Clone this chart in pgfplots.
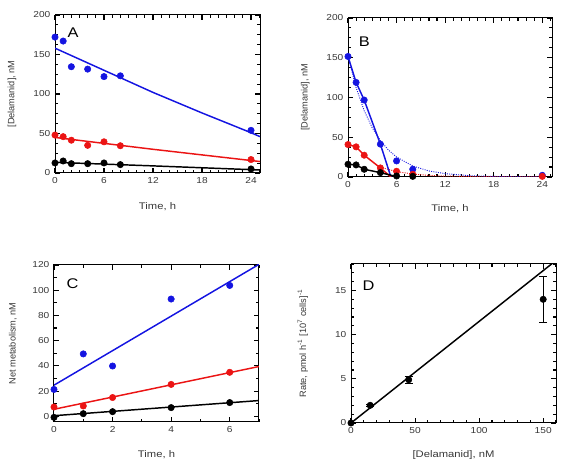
\documentclass[border=0pt]{standalone}
\usepackage{fontspec}
\setmainfont{Liberation Sans}[FakeStretch=1.17]
\newfontfamily\yfont{Liberation Sans}
\usepackage{pgfplots}
\pgfplotsset{compat=1.18}
\definecolor{myblue}{RGB}{20,20,225}
\definecolor{myred}{RGB}{235,20,20}
\definecolor{txt}{RGB}{55,55,55}
\tikzset{letter/.style={font=\fontsize{10.5}{12}\selectfont}}
\pgfplotsset{
  panel/.style={
    scale only axis,
    axis line style={black, line width=0.75pt},
    every tick/.style={black, line width=0.85pt},
    major tick length=4pt, minor tick length=2.5pt,
    tick align=inside,
    /pgf/number format/assume math mode=true,
    ticklabel style={font=\fontsize{6.5}{7}\selectfont, text=txt},
    xlabel style={font=\fontsize{7.2}{8}\selectfont, text=txt, at={(axis description cs:0.5,-0.21)}, anchor=center},
    ylabel style={font=\yfont\fontsize{6.9}{8}\selectfont, text=txt},
  },
  dots/.style={only marks, mark=*, mark size=2.4pt},
  fit/.style={no marks, line width=1.1pt},
}
\begin{document}
\begin{tikzpicture}
\path[use as bounding box] (0,0) rectangle (425.25pt,352.5pt);
% ---------------- A
\begin{axis}[panel, at={(41.25pt,222.75pt)}, anchor=south west,
  width=153.75pt, height=118.5pt,
  xmin=0, xmax=25.1, ymin=0, ymax=200,
  xtick={0,6,12,18,24}, minor xtick={1,2,...,25},
  ytick={0,50,100,150,200}, minor ytick={12.5,25,...,187.5},
  xlabel={Time, h}, ylabel={[Delamanid], nM},
  ylabel style={at={(axis description cs:-0.21,0.5)}, anchor=center}]
\addplot[fit, myblue] coordinates {(0,158) (6,130) (12,102) (18,76) (24,51) (25.1,46)};
\addplot[fit, myred] coordinates {(0,45) (12,30) (25.1,14.5)};
\addplot[fit, black] coordinates {(0,13.5) (12,9) (25.1,3.8)};
\addplot[dots, myblue] coordinates {(0,172) (1,167) (2,134.5) (4,131.5) (6,122) (8,123) (24,54)};
\addplot[dots, myred] coordinates {(0,48) (1,46) (2,41.5) (4,35) (6,39.5) (8,34.5) (24,17)};
\addplot[dots, black] coordinates {(0,12.7) (1,15.2) (2,11.8) (4,11.8) (6,12.7) (8,10.6) (24,5.1)};
\node[letter] at (rel axis cs:0.088,0.886) {A};
\end{axis}
% ---------------- B
\begin{axis}[panel, at={(261pt,219.75pt)}, anchor=south west,
  width=153pt, height=119.25pt,
  xmin=0, xmax=25.2, ymin=0, ymax=200,
  xtick={0,6,12,18,24}, minor xtick={1,2,...,25},
  ytick={0,50,100,150,200}, minor ytick={12.5,25,...,187.5},
  xlabel={Time, h}, ylabel={[Delamanid], nM},
  xlabel style={at={(axis description cs:0.5,-0.2)}},
  ylabel style={at={(axis description cs:-0.21,0.5)}, anchor=center}]
\addplot[no marks, myblue, densely dotted, line width=0.7pt] coordinates {(0,152) (1,112.6) (2,83.4) (3,61.8) (4,45.8) (5,33.9) (6,25.1) (8,13.8) (10,7.6) (12,4.2) (15,1.7) (18,0.7) (24,0.1)};
\addplot[no marks, myred, densely dotted, line width=0.7pt] coordinates {(4,12.3) (6,6.8) (8,3.7) (10,2) (12,1.1) (18,0.3) (24,0)};
\addplot[fit, myblue] coordinates {(0,151.6) (1,119) (2,96.8) (4,41.3) (5.3,0)};
\addplot[fit, myred] coordinates {(0,40.8) (1,37.9) (2,27.4) (4,11.4) (5.3,0)};
\addplot[fit, black] coordinates {(0,16) (1,15.2) (2,9.7) (4,5.5) (6,0.5)};
\addplot[dots, myblue] coordinates {(0,151.6) (1,119) (2,96.8) (4,41.3) (6,20.2) (8,9.7) (24,2.1)};
\addplot[dots, myred] coordinates {(0,40.8) (1,37.9) (2,27.4) (4,11.4) (6,7.2) (8,3.4) (24,0.8)};
\addplot[dots, black] coordinates {(0,16) (1,15.2) (2,9.7) (4,5.5) (6,1.3) (8,0.8)};
\node[letter] at (rel axis cs:0.08,0.85) {B};
\end{axis}
% ---------------- C
\begin{axis}[panel, at={(40.5pt,36pt)}, anchor=south west,
  width=153.75pt, height=117.75pt,
  xmin=0, xmax=7, ymin=-4.5, ymax=120,
  xtick={0,2,4,6}, minor xtick={1,3,5,7},
  ytick={0,20,40,60,80,100,120}, minor ytick={10,30,50,70,90,110},
  xlabel={Time, h}, ylabel={Net metabolism, nM},
  ylabel style={at={(axis description cs:-0.2,0.5)}, anchor=center}]
\addplot[fit, myblue] coordinates {(0,24.7) (7,120.5)};
\addplot[fit, myred] coordinates {(0,5.6) (7,39.5)};
\addplot[fit, black] coordinates {(0,0.5) (7,12.5)};
\addplot[dots, myblue] coordinates {(0,21.3) (1,49.5) (2,39.9) (4,93) (6,103.8)};
\addplot[dots, myred] coordinates {(0,7.4) (1,8.2) (2,14.9) (4,25.3) (6,34.9)};
\addplot[dots, black] coordinates {(0,-0.8) (1,2.1) (2,3.7) (4,6.9) (6,10.9)};
\node[letter] at (rel axis cs:0.09,0.88) {C};
\end{axis}
% ---------------- D
\begin{axis}[panel, at={(263.25pt,35.25pt)}, anchor=south west,
  width=153.75pt, height=119.25pt,
  xmin=0, xmax=160, ymin=0, ymax=18,
  xtick={0,50,100,150}, minor xtick={10,20,...,160},
  ytick={0,5,10,15}, minor ytick={1,2,...,18},
  xlabel={[Delamanid], nM},
  ylabel={Rate, pmol h\textsuperscript{-1} [10\textsuperscript{7} cells]\textsuperscript{-1}},
  xlabel style={at={(axis description cs:0.5,-0.2)}},
  ylabel style={at={(axis description cs:-0.235,0.5)}, anchor=center}]
\addplot[fit, black] coordinates {(0,0) (160,18.4)};
\addplot[black, only marks, mark=*, mark size=2.4pt,
  error bars/.cd, y dir=both, y explicit,
  error bar style={line width=0.6pt}, error mark options={rotate=90, mark size=3pt, line width=0.6pt}]
  coordinates {(0,0) +- (0,0) (15,2) +- (0,0.15) (45,4.9) +- (0,0.4) (150,14) +- (0,2.6)};
\node[letter] at (rel axis cs:0.085,0.865) {D};
\end{axis}
\end{tikzpicture}
\end{document}
